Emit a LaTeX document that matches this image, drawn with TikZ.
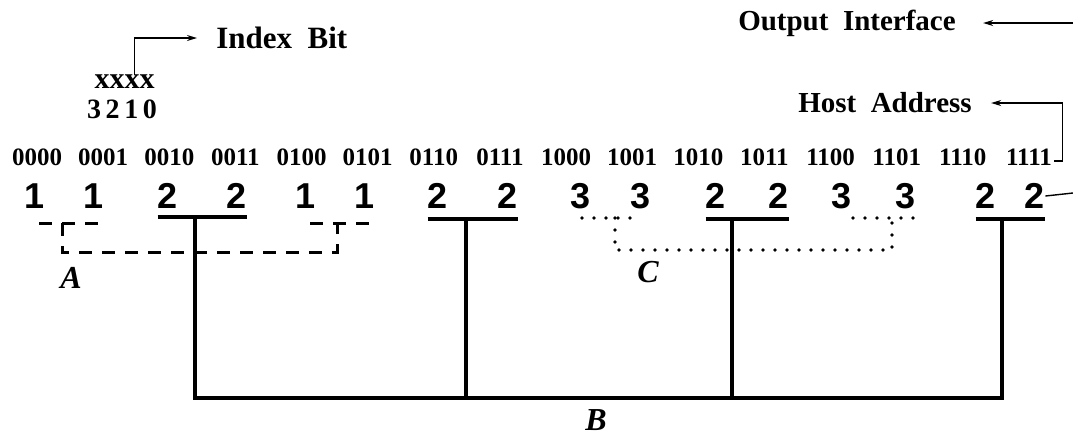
\documentclass[tikz,border=0pt]{standalone}
\usepackage{fontspec}
\setmainfont{Liberation Serif}
\setsansfont{Liberation Sans}
\usetikzlibrary{arrows.meta}

\begin{document}
\begin{tikzpicture}[x=0.5pt,y=-0.5pt,>={Stealth[length=5pt,width=3pt]},
  hdr/.style={inner sep=0,font=\fontsize{14.5}{16}\selectfont\bfseries},
  addr/.style={inner sep=1pt,font=\fontsize{12.5}{14}\selectfont\bfseries},
  cnt/.style={inner sep=0,font=\sffamily\bfseries\fontsize{18}{20}\selectfont},
  grp/.style={inner sep=0,font=\fontsize{16}{18}\selectfont\bfseries\itshape},
  thin/.style={line width=0.7pt},
  bus/.style={line width=1.6pt},
  grpA/.style={line width=1.5pt,dash pattern=on 6.5pt off 5pt},
  grpC/.style={line width=1.9pt,line cap=round,dash pattern=on 0pt off 6pt}]
\useasboundingbox (0,0) rectangle (1073,436);
% labels on top
\node[hdr,anchor=west,font=\fontsize{15.5}{17}\selectfont\bfseries] (idx) at (216,38) {Index\ \ Bit};
\node[inner sep=0,font=\fontsize{15}{16}\selectfont\bfseries] (xxxx) at (124.5,82) {xxxx};
\node[inner sep=0,font=\fontsize{14}{16}\selectfont\bfseries] (bits) at (122,109) {3\,2\,1\,0};
\node[hdr] (out) at (847,23) {Output\ \ Interface};
\node[hdr] (host) at (885,103) {Host\ \ Address};
\draw[thin,->] ([xshift=5pt]xxxx.north) |- ([xshift=-9.5pt]idx.west);
% host addresses and counts
\foreach \a [count=\i from 0] in {0000,0001,0010,0011,0100,0101,0110,0111,1000,1001,1010,1011,1100,1101,1110,1111}
  \node[addr] (a\i) at (37+66.13*\i,157) {\a};
\foreach \n/\x [count=\i from 0] in {1/35,1/94,2/168,2/237,1/306,1/365,2/438,2/508,3/581,3/641,2/716,2/779,3/842,3/906,2/986,2/1035}
  \node[cnt] (c\i) at (\x,196) {\n};
\coordinate (outR) at (1073,23);
\coordinate (cR) at (1073,193);
\draw[thin,->] (outR) -- ([xshift=13.5pt]out.east);
\draw[thin,->] ([yshift=-2pt]a15.east) -- ++(8,0) |- ([xshift=9.5pt]host.east);
\draw[thin] (c15.east) -- (cR);
% B
\coordinate (bot) at (0,398);
\coordinate (j1) at (195,216);
\coordinate (j2) at (466,217);
\coordinate (j3) at (732,218);
\coordinate (j4) at (1002,218);
\draw[bus] ([yshift=-4pt]c2.south west) -- ([yshift=-4pt]c3.south east);
\draw[bus] ([yshift=-5pt]c6.south west) -- ([yshift=-5pt]c7.south east);
\draw[bus] ([yshift=-5pt]c10.south west) -- ([yshift=-5pt]c11.south east);
\draw[bus] ([yshift=-5pt]c14.south west) -- ([yshift=-5pt]c15.south east);
\draw[bus] (j1) -- (j1 |- bot) -- (j4 |- bot) -- (j4);
\draw[bus] (j2) -- (j2 |- bot);
\draw[bus] (j3) -- (j3 |- bot);
\node[grp] (B) at (596,420) {B};
% A
\coordinate (A1) at (39,223);
\coordinate (A2) at (98,223);
\coordinate (A3) at (310,223);
\coordinate (A4) at (370,223);
\draw[grpA] (A1) -- (A2);
\draw[grpA] (A3) -- (A4);
\draw[grpA] (62,223) -- (62,252) -| (337,223);
\node[grp] (A) at (71,278) {A};
% C
\coordinate (C1) at (582,218);
\coordinate (C2) at (640,218);
\coordinate (C3) at (853,218);
\coordinate (C4) at (913,218);
\draw[grpC] (C1) -- (C2);
\draw[grpC] (C3) -- (C4);
\draw[grpC] (615,218) -- (615,250) -| (892,218);
\node[grp] (C) at (648,272) {C};
\end{tikzpicture}
\end{document}
